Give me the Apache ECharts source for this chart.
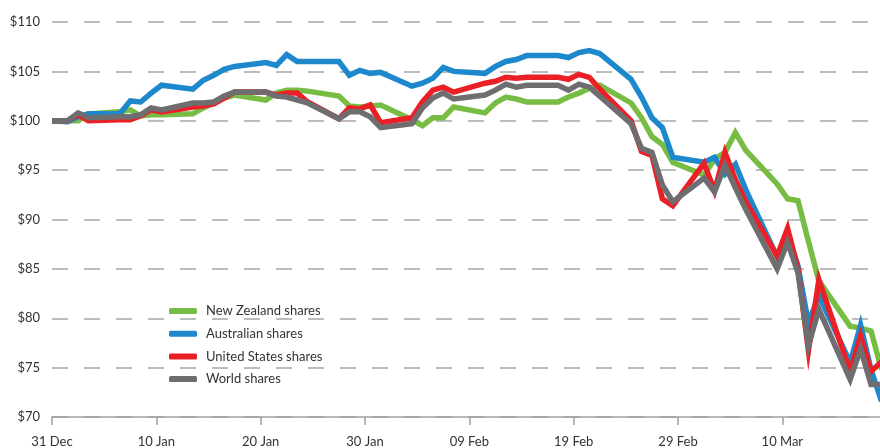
<!DOCTYPE html>
<html>
<head>
<meta charset="utf-8">
<script src="https://cdn.jsdelivr.net/npm/echarts@6/dist/echarts.min.js"></script>
<style>
  html, body { margin: 0; padding: 0; background: #fff; }
  #chart { width: 880px; height: 448px; }
</style>
</head>
<body>
<div id="chart"></div>
<script>
// days since 31 Dec (trading days)
const days = [0, 1.5, 2.5, 3.5, 6.5, 7.5, 8.5, 9.5, 10.5, 13.5, 14.5, 15.5, 16.5, 17.5,
  20.5, 21.5, 22.5, 23.5, 24.5, 27.5, 28.5, 29.5, 30.5, 31.5, 34.5, 35.5, 36.5, 37.5, 38.5,
  41.5, 42.5, 43.5, 44.5, 45.5, 48.5, 49.5, 50.5, 51.5, 52.5, 55.5, 56.5, 57.5, 58.5, 59.5,
  62.5, 63.5, 64.5, 65.5, 66.5, 69.5, 70.5, 71.5, 72.5, 73.5, 76.5, 77.5, 78.5, 79.5]

const nzShares = [100.0, 100.0, 100.0, 100.7, 100.9, 101.1, 100.5, 100.6, 100.6, 100.7, 101.3, 101.8, 102.3, 102.6,
  102.1, 102.8, 103.1, 103.1, 103.0, 102.5, 101.5, 101.4, 101.5, 101.6, 100.1, 99.5, 100.3, 100.3, 101.4,
  100.8, 101.8, 102.4, 102.2, 101.9, 101.9, 102.4, 102.8, 103.3, 103.6, 101.8, 100.3, 98.4, 97.6, 95.8,
  94.5, 96.1, 96.8, 98.8, 97.0, 93.6, 92.1, 91.9, 87.8, 83.8, 79.2, 79.0, 78.7, 74.8]

const auShares = [100.0, 99.9, 100.4, 100.7, 100.7, 102.0, 101.9, 102.8, 103.6, 103.2, 104.1, 104.6, 105.2, 105.5,
  105.9, 105.6, 106.7, 106.0, 106.0, 106.0, 104.6, 105.1, 104.8, 104.9, 103.5, 103.8, 104.3, 105.4, 105.0,
  104.8, 105.5, 106.0, 106.2, 106.6, 106.6, 106.4, 106.9, 107.1, 106.8, 104.2, 102.4, 100.3, 99.3, 96.3,
  95.8, 96.3, 94.6, 95.6, 93.0, 86.2, 88.5, 85.3, 79.5, 82.3, 75.5, 79.3, 74.8, 71.6]

const usShares = [100.0, 100.0, 100.6, 100.0, 100.1, 100.1, 100.5, 101.1, 100.9, 101.4, 101.5, 101.7, 102.3, 102.9,
  102.9, 102.6, 102.8, 102.8, 101.9, 100.2, 101.3, 101.2, 101.6, 99.8, 100.3, 101.9, 103.1, 103.4, 102.9,
  103.8, 104.0, 104.4, 104.3, 104.4, 104.4, 104.2, 104.7, 104.4, 103.2, 100.0, 96.9, 96.5, 92.1, 91.4,
  95.7, 92.9, 96.8, 94.0, 91.8, 86.3, 89.1, 85.0, 76.7, 83.9, 74.6, 78.2, 74.6, 75.6]

const worldShares = [100.0, 100.0, 100.8, 100.3, 100.4, 100.4, 100.6, 101.3, 101.1, 101.8, 101.8, 101.9, 102.5, 102.9,
  102.9, 102.5, 102.4, 102.1, 101.8, 100.2, 100.9, 100.9, 100.4, 99.3, 99.7, 101.3, 102.3, 102.8, 102.2,
  102.6, 103.1, 103.7, 103.4, 103.6, 103.6, 103.1, 103.7, 103.4, 102.5, 99.7, 97.2, 96.8, 93.5, 91.8,
  94.2, 92.8, 95.5, 93.2, 91.0, 85.0, 87.7, 84.6, 77.2, 80.9, 73.8, 76.9, 73.3, 73.3]

const seriesNames = ['New Zealand shares', 'Australian shares', 'United States shares', 'World shares']
const seriesColors = ['#77bd43', '#1d89cc', '#eb2027', '#6e6e70']
const xTickDays = [0, 10, 20, 30, 40, 50, 60, 70]
const xTickLabels = ['31 Dec', '10 Jan', '20 Jan', '30 Jan', '09 Feb', '19 Feb', '29 Feb', '10 Mar']

const FONT = 'Lato'
const chart = echarts.init(document.getElementById('chart'))

const makeSeries = (name, values, color) => ({
  name: name,
  type: 'line',
  data: days.map((d, i) => [d, values[i]]),
  showSymbol: false,
  color: color,
  lineStyle: { width: 5.5, color: color, join: 'miter' },
  emphasis: { disabled: true }
})

const option = {
  animation: false,
  textStyle: { fontFamily: FONT },
  grid: { left: 52, right: 0, top: 22, bottom: 30 },
  legend: {
    orient: 'vertical',
    left: 164,
    top: 298,
    icon: 'roundRect',
    itemWidth: 28,
    itemHeight: 6,
    itemGap: 6.7,
    data: seriesNames,
    textStyle: { fontFamily: FONT, fontSize: 13, color: '#333', lineHeight: 16, padding: [0, 0, 0, 4] }
  },
  xAxis: {
    type: 'value',
    min: 0,
    max: 79.36,
    interval: 10,
    axisLine: { show: true, lineStyle: { color: '#a0a0a0', width: 1.5 } },
    axisTick: { show: true, length: 8, lineStyle: { color: '#a0a0a0', width: 1.5 }, customValues: xTickDays },
    splitLine: { show: false },
    axisLabel: {
      customValues: xTickDays,
      fontFamily: FONT,
      fontSize: 13,
      color: '#333',
      margin: 18,
      formatter: (v) => xTickLabels[xTickDays.indexOf(v)] || ''
    }
  },
  yAxis: {
    type: 'value',
    min: 70,
    max: 110,
    interval: 5,
    axisLine: { show: false },
    axisTick: { show: false },
    splitLine: { show: true, lineStyle: { color: '#a6a6a6', width: 1.5, type: [16, 16] } },
    axisLabel: {
      fontFamily: FONT,
      fontSize: 13,
      color: '#333',
      margin: 12,
      formatter: (v) => '$' + v
    }
  },
  series: [
    makeSeries(seriesNames[0], nzShares, seriesColors[0]),
    makeSeries(seriesNames[1], auShares, seriesColors[1]),
    makeSeries(seriesNames[2], usShares, seriesColors[2]),
    makeSeries(seriesNames[3], worldShares, seriesColors[3])
  ]
}

chart.setOption(option)
</script>
</body>
</html>
